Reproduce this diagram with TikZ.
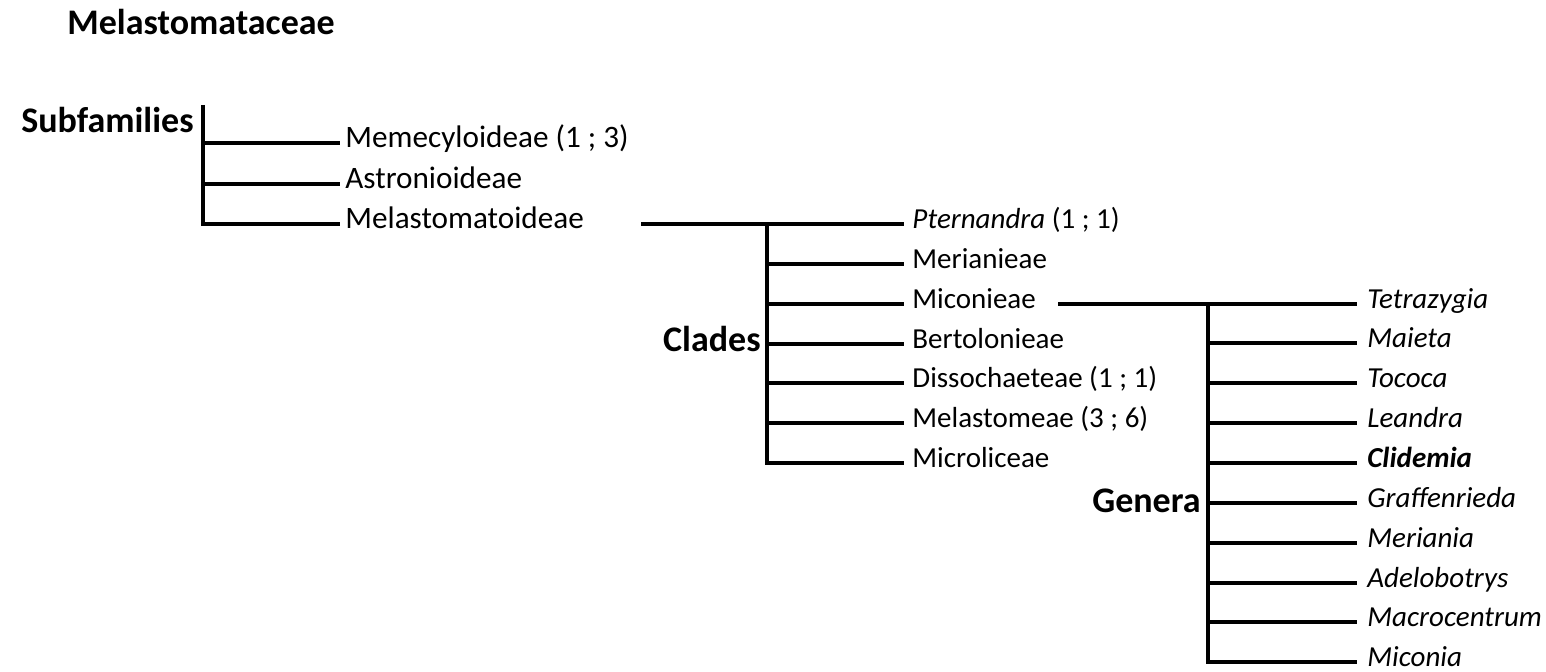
\documentclass[tikz,border=0pt]{standalone}
\usepackage{fontspec}
\setmainfont{Carlito}
\usetikzlibrary{positioning}

\tikzset{
  branch/.style={line width=2pt},
  rank/.style={inner sep=0pt, font=\fontsize{18}{20}\selectfont\bfseries},
  subfam/.style={anchor=mid west, inner ysep=0pt, inner xsep=2.5pt, font=\fontsize{15.6}{18}\selectfont},
  clade/.style={anchor=mid west, inner ysep=0pt, inner xsep=4pt, font=\fontsize{14.5}{17}\selectfont},
  genus/.style={anchor=mid west, inner ysep=0pt, inner xsep=5pt, font=\fontsize{14.5}{17}\selectfont\itshape},
}

\begin{document}
\begin{tikzpicture}[x=0.5pt,y=-0.5pt]
  \useasboundingbox (0,0) rectangle (1546,672);

  % family
  \node[rank, anchor=base west] (family) at (67,35) {Melastomataceae};

  % subfamilies
  \node[rank, anchor=base east] (subfamilies) at (194,133) {Subfamilies};
  \coordinate (sfroot) at (203,105);
  \node[subfam] (memec) at (340,143) {Memecyloideae (1 ; 3)};
  \node[subfam] (astron) at (340,184) {Astronioideae};
  \node[subfam] (melas) at (340,224) {Melastomatoideae};
  \draw[branch] (sfroot) |- (melas.mid west);
  \draw[branch] (sfroot |- memec.mid west) -- (memec.mid west);
  \draw[branch] (sfroot |- astron.mid west) -- (astron.mid west);

  % clades
  \node[rank, anchor=base east] (clades) at (761,352) {Clades};
  \coordinate (cladestart) at (641,224);
  \coordinate (claderoot) at (767,224);
  \node[clade] (ptern) at (904,224) {\textit{Pternandra} (1 ; 1)};
  \node[clade] (merian) at (904,264) {Merianieae};
  \node[clade] (micon) at (904,304) {Miconieae};
  \node[clade] (bertol) at (904,344) {Bertolonieae};
  \node[clade] (dissoch) at (904,383) {Dissochaeteae (1 ; 1)};
  \node[clade] (melastom) at (904,423) {Melastomeae (3 ; 6)};
  \node[clade] (microl) at (904,463) {Microliceae};
  \draw[branch] (cladestart) -- (ptern.mid west);
  \draw[branch] (claderoot) |- (microl.mid west);
  \draw[branch] (claderoot |- merian.mid west) -- (merian.mid west);
  \draw[branch] (claderoot |- micon.mid west) -- (micon.mid west);
  \draw[branch] (claderoot |- bertol.mid west) -- (bertol.mid west);
  \draw[branch] (claderoot |- dissoch.mid west) -- (dissoch.mid west);
  \draw[branch] (claderoot |- melastom.mid west) -- (melastom.mid west);

  % genera of Miconieae
  \node[rank, anchor=base east] (genera) at (1201,513) {Genera};
  \coordinate (genstart) at (1058,304);
  \coordinate (genroot) at (1208,304);
  \node[genus] (tetra) at (1357,304) {Tetrazygia};
  \node[genus] (maieta) at (1357,343) {Maieta};
  \node[genus] (tococa) at (1357,383) {Tococa};
  \node[genus] (leandra) at (1357,423) {Leandra};
  \node[genus] (clidemia) at (1357,463) {\bfseries Clidemia};
  \node[genus] (graff) at (1357,503) {Graffenrieda};
  \node[genus] (meriania) at (1357,543) {Meriania};
  \node[genus] (adelo) at (1357,583) {Adelobotrys};
  \node[genus] (macro) at (1357,622) {Macrocentrum};
  \node[genus] (miconia) at (1357,662) {Miconia};
  \draw[branch] (genstart) -- (tetra.mid west);
  \draw[branch] (genroot) |- (miconia.mid west);
  \draw[branch] (genroot |- maieta.mid west) -- (maieta.mid west);
  \draw[branch] (genroot |- tococa.mid west) -- (tococa.mid west);
  \draw[branch] (genroot |- leandra.mid west) -- (leandra.mid west);
  \draw[branch] (genroot |- clidemia.mid west) -- (clidemia.mid west);
  \draw[branch] (genroot |- graff.mid west) -- (graff.mid west);
  \draw[branch] (genroot |- meriania.mid west) -- (meriania.mid west);
  \draw[branch] (genroot |- adelo.mid west) -- (adelo.mid west);
  \draw[branch] (genroot |- macro.mid west) -- (macro.mid west);
\end{tikzpicture}
\end{document}
